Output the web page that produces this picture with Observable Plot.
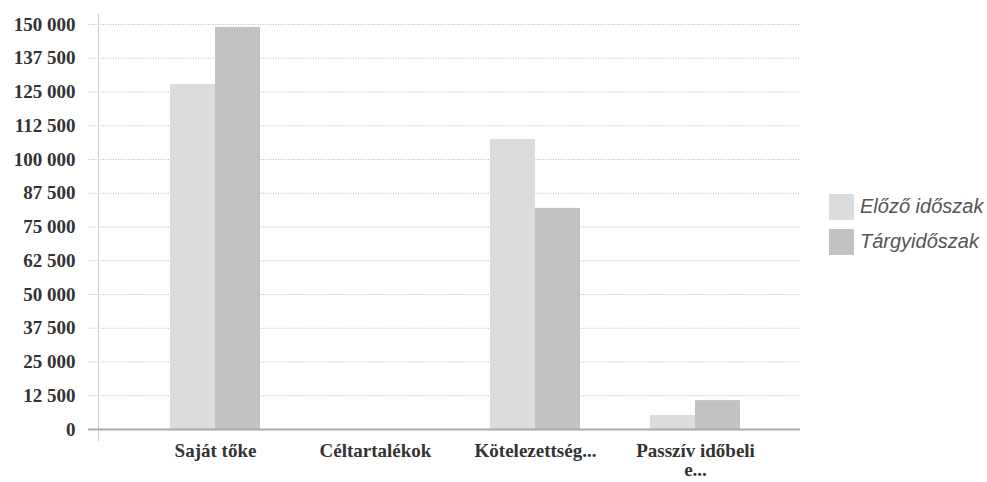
<!DOCTYPE html>
<html>
<head>
<meta charset="utf-8">
<script src="https://cdn.jsdelivr.net/npm/d3@7"></script>
<script src="https://cdn.jsdelivr.net/npm/@observablehq/plot@0.6"></script>
<style>
  body { margin: 0; background: #fff; }
  #wrap { position: relative; width: 987px; height: 482px; overflow: hidden; }
  #legend { position: absolute; left: 829px; top: 189px; font-family: "Liberation Sans", Arial, sans-serif; font-style: italic; font-size: 20px; color: #555; }
  .item { display: flex; align-items: center; height: 35px; }
  .sw { width: 25px; height: 26px; margin-right: 6px; }
</style>
</head>
<body>
<div id="wrap"><div id="chart"></div><div id="legend"></div></div>
<script>
const categories = ["Saját tőke", "Céltartalékok", "Kötelezettség...", "Passzív időbeli\ne..."];
const seriesNames = ["Előző időszak", "Tárgyidőszak"];
const elozo = [127800, 0, 107400, 5200];
const targy = [148900, 0, 81900, 10700];
const yTicks = [0, 12500, 25000, 37500, 50000, 62500, 75000, 87500, 100000, 112500, 125000, 137500, 150000];
const colors = ["#dcdcdc", "#c2c2c2"];

const rowsA = categories.map((c, i) => ({cat: c, value: elozo[i]}));
const rowsB = categories.map((c, i) => ({cat: c, value: targy[i]}));
const fmt = v => d3.format(",")(v).replace(/,/g, " ");

const chart = Plot.plot({
  width: 810,
  height: 482,
  marginLeft: 98,
  marginRight: 10,
  marginTop: 24,
  marginBottom: 53,
  style: {fontFamily: "'Liberation Serif', 'Times New Roman', serif", fontSize: "19px", fontWeight: "bold", color: "#333", background: "transparent", overflow: "visible"},
  x: {domain: categories, range: [170, 740], paddingInner: 0.4375, paddingOuter: 0, label: null},
  y: {domain: [0, 150000], label: null},
  marks: [
    Plot.ruleY(yTicks, {stroke: "#bbb", strokeDasharray: "1,1.5", insetLeft: -10}),
    Plot.frame({anchor: "left", stroke: "#ccc", insetTop: -10, insetBottom: -11}),
    Plot.barY(rowsA, {x: "cat", y: "value", fill: colors[0], insetRight: 45}),
    Plot.barY(rowsB, {x: "cat", y: "value", fill: colors[1], insetLeft: 45}),
    Plot.ruleY([0], {stroke: "#aaa", strokeWidth: 2, insetLeft: -10}),
    Plot.axisY({ticks: yTicks, tickFormat: fmt, tickSize: 0, tickPadding: 23, label: null}),
    Plot.axisX({tickSize: 0, tickPadding: 14, lineHeight: 1.0, label: null})
  ]
});
document.getElementById("chart").appendChild(chart);

const legend = document.getElementById("legend");
seriesNames.forEach((n, i) => {
  const it = document.createElement("div");
  it.className = "item";
  const sw = document.createElement("div");
  sw.className = "sw";
  sw.style.background = colors[i];
  const t = document.createElement("span");
  t.textContent = n;
  it.appendChild(sw); it.appendChild(t);
  legend.appendChild(it);
});
</script>
</body>
</html>
